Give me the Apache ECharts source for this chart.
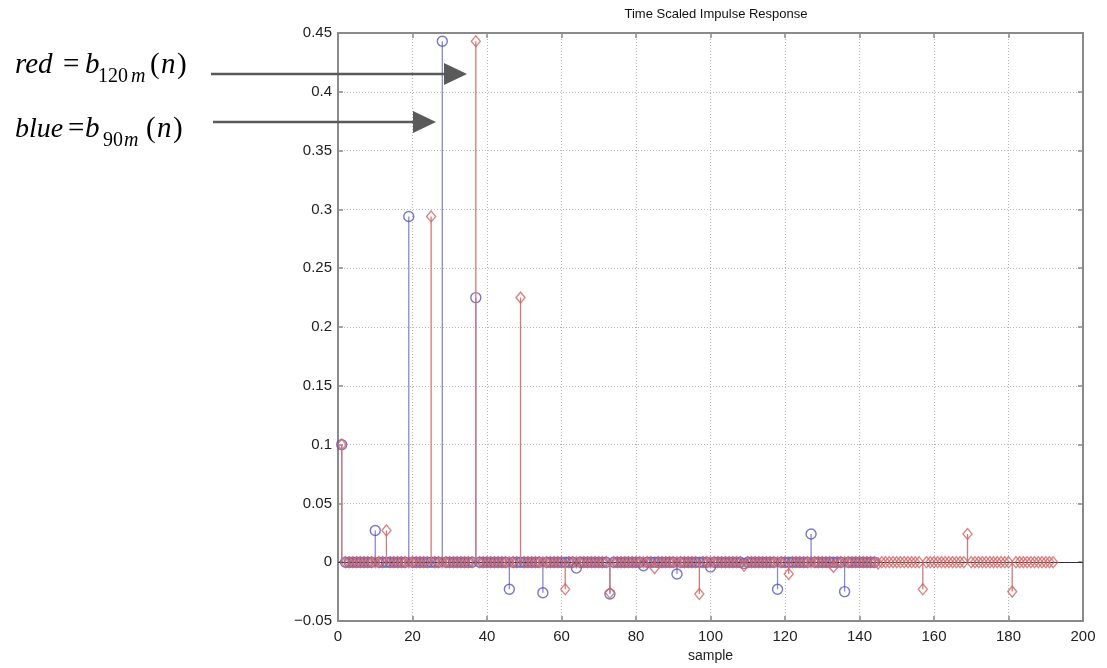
<!DOCTYPE html>
<html>
<head>
<meta charset="utf-8">
<script src="https://cdn.jsdelivr.net/npm/echarts@6/dist/echarts.min.js"></script>
<style>
html,body{margin:0;padding:0;background:#fff;}
#c{width:1107px;height:668px;}
</style>
</head>
<body>
<div id="c"></div>
<script>
// ---- data ----
const titleText = 'Time Scaled Impulse Response';
const xLabel = 'sample';
const blueLength = 144;   // samples 1..144 (b_90m)
const redLength = 192;    // samples 1..192 (b_120m)
const blueN = [1, 10, 19, 28, 37, 46, 55, 64, 73, 82, 91, 100, 109, 118, 127, 136];
const blueV = [0.1, 0.027, 0.294, 0.443, 0.225, -0.023, -0.026, -0.005, -0.027, -0.003, -0.010, -0.004, -0.001, -0.023, 0.024, -0.025];
const redN = [1, 13, 25, 37, 49, 61, 73, 85, 97, 109, 121, 133, 145, 157, 169, 181];
const redV = [0.1, 0.027, 0.294, 0.443, 0.225, -0.023, -0.026, -0.005, -0.027, -0.003, -0.010, -0.004, -0.001, -0.023, 0.024, -0.025];
const xTicks = {min: 0, max: 200, interval: 20};
const yTicks = {min: -0.05, max: 0.45, interval: 0.05};

function fullSeries(len, ns, vs) {
  const out = [];
  for (let n = 1; n <= len; n++) {
    const k = ns.indexOf(n);
    out.push([n, k >= 0 ? vs[k] : 0]);
  }
  return out;
}
const blueData = fullSeries(blueLength, blueN, blueV);
const redData = fullSeries(redLength, redN, redV);

const BLUE_STEM = '#8888d4', BLUE_MK = '#5555bb';
const RED_STEM = '#d07a7a', RED_MK = '#d26464';

function stemSeries(data, color, z) {
  return {
    type: 'custom', z: z, silent: true,
    data: data.filter(d => d[1] !== 0),
    renderItem: function (params, api) {
      const p0 = api.coord([api.value(0), 0]);
      const p1 = api.coord([api.value(0), api.value(1)]);
      return {type: 'line', shape: {x1: p0[0], y1: p0[1], x2: p1[0], y2: p1[1]},
              style: {stroke: color, lineWidth: 1.3}};
    }
  };
}

const chart = echarts.init(document.getElementById('c'), null, {renderer: 'canvas'});
const axisColor = '#8a8a8a';
const fmtY = v => {
  const s = String(parseFloat(Number(v).toFixed(2)));
  return s.replace('-', '\u2212');
};
function txt(t, x, y, size, italic) {
  return {type: 'text', x: x, y: y, silent: true,
    style: {text: t, fill: '#000', font: (italic ? 'italic ' : '') + size + 'px "Liberation Serif", "DejaVu Serif", serif',
            align: 'left', verticalAlign: 'bottom'}};
}
const arrowColor = '#5a5a5a';
const option = {
  animation: false,
  backgroundColor: '#fff',
  title: {text: titleText, left: 711, top: 3, textAlign: 'center',
          textStyle: {fontFamily: '"Liberation Sans", Arial, sans-serif', fontSize: 13, fontWeight: 'normal', color: '#111'}},
  grid: {left: 338, right: 24, top: 33, bottom: 47, show: false},
  xAxis: [{
    type: 'value', min: xTicks.min, max: xTicks.max, interval: xTicks.interval,
    name: xLabel, nameLocation: 'middle', nameGap: 28,
    nameTextStyle: {fontFamily: '"Liberation Sans", Arial, sans-serif', fontSize: 14, color: '#222'},
    axisLine: {onZero: false, lineStyle: {color: axisColor, width: 2}},
    axisTick: {inside: true, length: 5, lineStyle: {color: axisColor, width: 1.5}},
    axisLabel: {margin: 8, fontFamily: '"Liberation Sans", Arial, sans-serif', fontSize: 15, color: '#222'},
    splitLine: {show: true, lineStyle: {color: '#b5b5b5', type: [1, 2], width: 1}}
  }, {
    type: 'value', position: 'top', min: xTicks.min, max: xTicks.max, interval: xTicks.interval,
    axisLine: {onZero: false, lineStyle: {color: axisColor, width: 2}},
    axisTick: {inside: true, length: 5, lineStyle: {color: axisColor, width: 1.5}},
    axisLabel: {show: false}, splitLine: {show: false}
  }],
  yAxis: [{
    type: 'value', min: yTicks.min, max: yTicks.max, interval: yTicks.interval,
    axisLine: {onZero: false, lineStyle: {color: axisColor, width: 2}},
    axisTick: {inside: true, length: 5, lineStyle: {color: axisColor, width: 1.5}},
    axisLabel: {margin: 6, formatter: fmtY, fontFamily: '"Liberation Sans", Arial, sans-serif', fontSize: 15, color: '#222'},
    splitLine: {show: true, lineStyle: {color: '#b5b5b5', type: [1, 2], width: 1}}
  }, {
    type: 'value', position: 'right', min: yTicks.min, max: yTicks.max, interval: yTicks.interval,
    axisLine: {onZero: false, lineStyle: {color: axisColor, width: 2}},
    axisTick: {inside: true, length: 5, lineStyle: {color: axisColor, width: 1.5}},
    axisLabel: {show: false}, splitLine: {show: false}
  }],
  series: [
    stemSeries(blueData, BLUE_STEM, 2),
    {type: 'scatter', z: 3, silent: true, data: blueData, symbol: 'circle', symbolSize: 10,
     itemStyle: {color: 'rgba(0,0,0,0)', borderColor: BLUE_MK, borderWidth: 1.4},
     markLine: {silent: true, symbol: 'none', label: {show: false},
                lineStyle: {color: '#333', width: 1, type: 'solid'}, data: [{yAxis: 0}]}},
    stemSeries(redData, RED_STEM, 4),
    {type: 'scatter', z: 5, silent: true, data: redData, symbol: 'diamond', symbolSize: [9, 11],
     itemStyle: {color: 'rgba(0,0,0,0)', borderColor: RED_MK, borderWidth: 1.4}}
  ],
  graphic: [
    // red annotation
    txt('red', 15, 80, 29, true),
    txt('=', 63, 80, 29, false),
    txt('b', 85, 80, 29, true),
    txt('120', 98, 87, 20, false),
    txt('m', 131, 87, 20, true),
    txt('(', 150, 80, 29, false),
    txt('n', 161, 80, 29, true),
    txt(')', 177, 80, 29, false),
    // blue annotation
    txt('blue', 15, 144, 28, true),
    txt('=', 68, 144, 29, false),
    txt('b', 85, 144, 29, true),
    txt('90', 103, 151, 20, false),
    txt('m', 124, 151, 20, true),
    txt('(', 146, 144, 29, false),
    txt('n', 157, 144, 29, true),
    txt(')', 173, 144, 29, false),
    // arrows
    {type: 'line', silent: true, shape: {x1: 211, y1: 74, x2: 446, y2: 74}, style: {stroke: arrowColor, lineWidth: 2.5}, z: 100},
    {type: 'polygon', silent: true, shape: {points: [[444, 63], [467, 74], [444, 85]]}, style: {fill: arrowColor}, z: 100},
    {type: 'line', silent: true, shape: {x1: 213, y1: 122, x2: 415, y2: 122}, style: {stroke: arrowColor, lineWidth: 2.5}, z: 100},
    {type: 'polygon', silent: true, shape: {points: [[413, 111], [436, 122], [413, 133]]}, style: {fill: arrowColor}, z: 100}
  ]
};
chart.setOption(option);
</script>
</body>
</html>
